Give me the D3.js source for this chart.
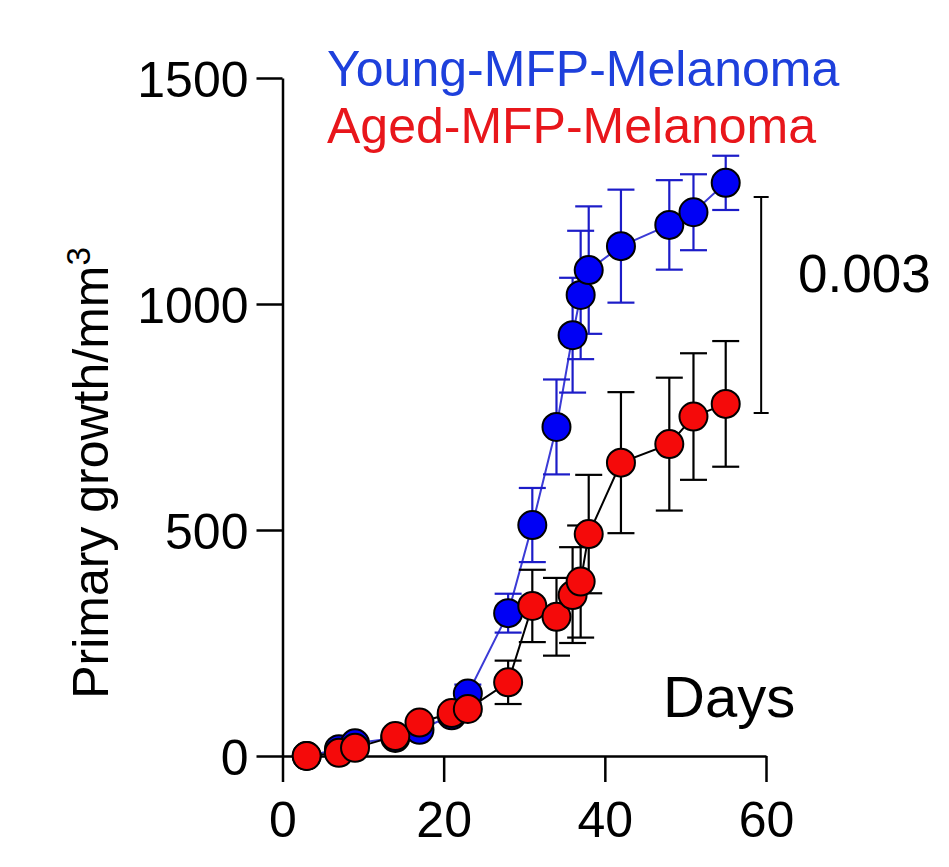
<!DOCTYPE html>
<html>
<head>
<meta charset="utf-8">
<script src="https://cdn.jsdelivr.net/npm/d3@7"></script>
<style>
  html, body { margin: 0; padding: 0; background: #fff; }
  svg text { font-family: "Liberation Sans", Arial, Helvetica, sans-serif; }
</style>
</head>
<body>
<div id="chart"></div>
<script>
// days after injection
const days = [3, 7, 9, 14, 17, 21, 23, 28, 31, 34, 36, 37, 38, 42, 48, 51, 55]

// mean tumour volume (mm3) and SEM
const youngMean = [0, 15, 28, 40, 58, 90, 138, 316, 511, 728, 931, 1020, 1075, 1128, 1175, 1203, 1268]
const youngErr  = [0, 5, 8, 10, 12, 15, 20, 43, 82, 105, 127, 142, 141, 125, 99, 84, 60]
const agedMean  = [0, 7, 18, 44, 74, 95, 104, 163, 332, 308, 356, 386, 491, 649, 690, 751, 779]
const agedErr   = [0, 4, 6, 8, 10, 12, 14, 48, 80, 86, 106, 124, 131, 156, 147, 140, 139]

const xTicks = [0, 20, 40, 60]
const yTicks = [0, 500, 1000, 1500]

// significance bracket between the last points
const bracket = { x: 59.4, y0: 759, y1: 1237, label: "0.003" }

const W = 949, H = 867

const svg = d3.select('#chart')
  .append('svg')
    .attr('width', W)
    .attr('height', H)

const x = d3.scaleLinear().domain([0, 60]).range([282.5, 766])
const y = d3.scaleLinear().domain([0, 1500]).range([756, 78])

const series = [
  {
    name: 'Young-MFP-Melanoma', mean: youngMean, err: youngErr,
    fill: '#0000f5', line: '#3b3bd6', bar: '#1c1cc8', text: '#1e40dc'
  },
  {
    name: 'Aged-MFP-Melanoma', mean: agedMean, err: agedErr,
    fill: '#f50a0a', line: '#000', bar: '#000', text: '#e8161b'
  }
]

// axes
const yAxis = d3.axisLeft(y)
  .tickValues(yTicks)
  .tickSize(26)
  .tickSizeOuter(0)
  .tickPadding(8)
  .tickFormat(d3.format('d'))

const xAxis = d3.axisBottom(x)
  .tickValues(xTicks)
  .tickSize(26)
  .tickSizeOuter(0)
  .tickPadding(19)

function styleAxis(g) {
  g.select('.domain').attr('stroke', '#000').attr('stroke-width', 2.5)
  g.selectAll('.tick line').attr('stroke', '#000').attr('stroke-width', 2.5)
  g.selectAll('.tick text')
    .attr('fill', '#000')
    .style('font-size', '50px')
}

svg.append('g')
    .attr('transform', `translate(${x(0)},0)`)
    .call(yAxis)
    .call(styleAxis)
    .call(g => g.attr('font-family', null).selectAll('.tick text').attr('dy', '0.36em'))

svg.append('g')
    .attr('transform', `translate(0,${y(0)})`)
    .call(xAxis)
    .call(styleAxis)
    .call(g => g.attr('font-family', null))

// y label with superscript
const ylab = svg.append('text')
    .attr('transform', `translate(108,473) rotate(-90)`)
    .attr('text-anchor', 'middle')
    .style('font-size', '50px')
    .attr('fill', '#000')
ylab.append('tspan').text('Primary growth/mm')
ylab.append('tspan').text('3')
    .attr('dy', -18)
    .style('font-size', '33px')

// series: lines, error bars, markers
const line = d3.line()
  .x(d => x(d.day))
  .y(d => y(d.mean))

const capW = 13.5

series.forEach(s => {
  const pts = days.map((d, i) => ({ day: d, mean: s.mean[i], err: s.err[i] }))
  const g = svg.append('g')

  g.append('path')
    .datum(pts)
    .attr('d', line)
    .attr('fill', 'none')
    .attr('stroke', s.line)
    .attr('stroke-width', 2)

  const eb = g.append('g')
      .attr('stroke', s.bar)
      .attr('stroke-width', 2.2)
    .selectAll('g')
    .data(pts.filter(p => p.err > 0))
    .enter()
    .append('g')

  eb.append('line')
    .attr('x1', d => x(d.day)).attr('x2', d => x(d.day))
    .attr('y1', d => y(d.mean - d.err)).attr('y2', d => y(d.mean + d.err))
  eb.append('line')
    .attr('x1', d => x(d.day) - capW).attr('x2', d => x(d.day) + capW)
    .attr('y1', d => y(d.mean + d.err)).attr('y2', d => y(d.mean + d.err))
  eb.append('line')
    .attr('x1', d => x(d.day) - capW).attr('x2', d => x(d.day) + capW)
    .attr('y1', d => y(d.mean - d.err)).attr('y2', d => y(d.mean - d.err))

  g.selectAll('circle')
    .data(pts)
    .enter()
    .append('circle')
      .attr('cx', d => x(d.day))
      .attr('cy', d => y(d.mean))
      .attr('r', 14)
      .attr('fill', s.fill)
      .attr('stroke', '#000')
      .attr('stroke-width', 2)
})

// legend
svg.append('g')
  .selectAll('text')
  .data(series)
  .enter()
  .append('text')
    .attr('x', 327)
    .attr('y', (d, i) => 86 + i * 57)
    .attr('fill', d => d.text)
    .style('font-size', '50px')
    .text(d => d.name)

// significance bracket
const bx = x(bracket.x)
svg.append('path')
    .attr('d', `M${bx - 7.5},${y(bracket.y1)}H${bx + 7.5}M${bx},${y(bracket.y1)}V${y(bracket.y0)}M${bx - 7.5},${y(bracket.y0)}H${bx + 7.5}`)
    .attr('fill', 'none')
    .attr('stroke', '#000')
    .attr('stroke-width', 2)

svg.append('text')
    .attr('x', 798)
    .attr('y', 292)
    .style('font-size', '53px')
    .attr('fill', '#000')
    .text(bracket.label)

svg.append('text')
    .attr('x', 663)
    .attr('y', 717)
    .style('font-size', '58px')
    .attr('fill', '#000')
    .text('Days')
</script>
</body>
</html>
